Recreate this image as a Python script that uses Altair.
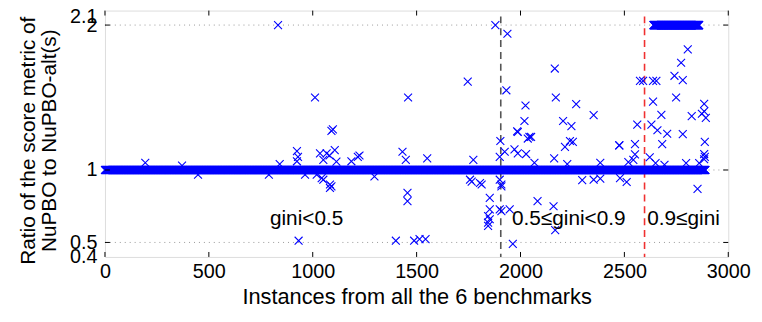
import altair as alt
import pandas as pd

# ---------------- data ----------------
# runs of instances whose ratio is (almost) exactly a constant value
band_ones = (0, 2890, 1.0)      # start, end, ratio
band_twos = (2640, 2860, 2.0)

out_x = [833, 1879, 1937, 1011, 1459, 1746, 1932, 1090, 1097,
         924, 929, 924, 1035, 1067, 1106, 1051, 1114, 1081, 1186, 1217, 1225,
         1432, 1448, 1551, 1773, 1903, 1924, 1900, 194, 371, 841,
         2165, 2170, 2268, 2024, 2352, 2019, 2205, 2245, 1984, 2035, 2051,
         2238, 2252, 2214, 2475, 1971, 1987, 2027, 2067, 2162, 2225, 2384,
         1987, 2043,
         2805, 2773, 2741, 2781, 2575, 2590, 2638, 2654, 2749, 2638, 2884,
         2678, 2824, 2873, 2892, 2884, 2562, 2630, 2659, 2706, 2781, 2476,
         2551, 2682, 2887, 2551, 2884, 2887, 2884, 2622, 2519, 2543, 2693,
         2797, 2860, 2650,
         1805, 1852, 1852, 1844, 1844, 1852, 1844, 1900, 1908, 1908, 1900,
         1948, 1963, 2082, 2159, 2167, 2852, 2297, 2352, 2384, 2511, 2479,
         1043, 1083, 1083, 1090, 1051, 1019, 1297, 1456, 1456, 1400, 1488,
         1514, 1543, 932, 1757, 1813, 1765, 1908, 448, 789, 963]
out_y = [2.0, 2.0, 1.94, 1.50, 1.50, 1.61, 1.55, 1.27, 1.28,
         1.13, 1.09, 1.06, 1.115, 1.115, 1.137, 1.07, 1.058, 1.10, 1.06, 1.09, 1.10,
         1.126, 1.07, 1.08, 1.07, 1.20, 1.126, 1.09, 1.05, 1.03, 1.04,
         1.70, 1.50, 1.454, 1.445, 1.379, 1.338, 1.338, 1.303, 1.267, 1.217, 1.228,
         1.20, 1.194, 1.16, 1.17, 1.142, 1.115, 1.11, 1.05, 1.08, 1.04, 1.05,
         1.262, 1.228,
         1.832, 1.74, 1.65, 1.62, 1.615, 1.615, 1.615, 1.615, 1.50, 1.472, 1.456,
         1.38, 1.372, 1.388, 1.36, 1.404, 1.313, 1.313, 1.274, 1.25, 1.247, 1.17,
         1.178, 1.178, 1.194, 1.108, 1.11, 1.09, 1.074, 1.088, 1.054, 1.07, 1.036,
         1.047, 1.047, 1.047,
         0.91, 0.808, 0.728, 0.682, 0.637, 0.66, 0.614, 0.933, 0.90, 0.887, 0.728,
         0.728, 0.49, 0.785, 0.75, 0.585, 0.87, 0.93, 0.933, 0.94, 0.917, 0.944,
         0.944, 0.90, 0.876, 0.887, 0.933, 0.967, 0.955, 0.842, 0.785, 0.512, 0.512,
         0.523, 0.523, 0.512, 0.933, 0.90, 0.92, 0.716, 0.967, 0.967, 0.967]

split_x = [1905, 2597]
split_color = ["#555555", "#f03030"]

region_labels = ["gini<0.5", "0.5≤gini<0.9", "0.9≤gini"]
region_x = [794, 1959, 2610]
region_y = [0.66, 0.66, 0.66]

x_ticks = [0, 500, 1000, 1500, 2000, 2500, 3000]
y_ticks = [0.4, 0.5, 1, 2, 2.1]
y_grid = [0.5, 1, 2]

# ---------------- tables ----------------
rows = []
for s, e, v in (band_ones, band_twos):
    for i in range(s, e + 1):
        rows.append({"x": i, "y": v})
for a, b in zip(out_x, out_y):
    rows.append({"x": a, "y": b})
pts = pd.DataFrame(rows)

W, H = 630, 249
FONT = "Liberation Sans"

xs = alt.Scale(domain=[0, 3000], nice=False, zero=False)
ys = alt.Scale(domain=[0.4, 2.1], nice=False, zero=False)

xaxis = alt.Axis(values=x_ticks, format="d", tickSize=0, domain=False, grid=False,
                 labelFontSize=20, labelFont=FONT, labelColor="black", labelPadding=5,
                 labelFlush=False,
                 title="Instances from all the 6 benchmarks", titleFont=FONT,
                 titleFontSize=22, titleFontWeight="normal", titleColor="black",
                 titleX=W / 2, titleY=47, titleBaseline="alphabetic", titleAnchor="middle")
yaxis = alt.Axis(values=y_ticks, format="~g", tickSize=0, domain=False, grid=False,
                 labelFontSize=20, labelFont=FONT, labelColor="black", labelPadding=8,
                 labelOverlap=False, labelFlush=False, labelBound=False,
                 labelOffset=alt.condition("datum.value == 2.1", alt.value(6), alt.value(0)),
                 title=["Ratio of the score metric of", "NuPBO to NuPBO-alt(s)"],
                 titleFont=FONT, titleFontSize=21, titleFontWeight="normal",
                 titleColor="black", titleLineHeight=21, titleAngle=-90,
                 titleX=-88, titleY=131, titleBaseline="top", titleAlign="center")

grid = alt.Chart(pd.DataFrame({"y": y_grid})).mark_rule(
    color="#999999", strokeDash=[1, 4], strokeWidth=1
).encode(y=alt.Y("y:Q", scale=ys, axis=yaxis), x=alt.value(0), x2=alt.value(W))

xt = pd.DataFrame({"x": x_ticks})
tick_b = alt.Chart(xt).mark_rule(color="black").encode(
    x=alt.X("x:Q", scale=xs, axis=xaxis), y=alt.value(H), y2=alt.value(H - 5))
tick_t = alt.Chart(xt).mark_rule(color="black").encode(
    x=alt.X("x:Q", scale=xs), y=alt.value(0), y2=alt.value(5))
yt = pd.DataFrame({"y": y_grid})
tick_l = alt.Chart(yt).mark_rule(color="black").encode(
    y=alt.Y("y:Q", scale=ys), x=alt.value(0), x2=alt.value(5))
tick_r = alt.Chart(yt).mark_rule(color="black").encode(
    y=alt.Y("y:Q", scale=ys), x=alt.value(W), x2=alt.value(W - 5))

splits = alt.Chart(pd.DataFrame({"x": split_x, "c": split_color,
                                 "y1": [2.06, 2.06], "y2": [0.4, 0.4]})).mark_rule(
    strokeDash=[7, 5], strokeWidth=1.6
).encode(x=alt.X("x:Q", scale=xs), y=alt.Y("y1:Q", scale=ys), y2="y2:Q",
         color=alt.Color("c:N", scale=None))

xshape = "M-1,-1L1,1M-1,1L1,-1"
points = alt.Chart(pts).mark_point(
    shape=xshape, filled=False, color="#0000ff", size=64, strokeWidth=1.1, opacity=1
).encode(x=alt.X("x:Q", scale=xs), y=alt.Y("y:Q", scale=ys))

labels = alt.Chart(pd.DataFrame({"t": region_labels, "x": region_x, "y": region_y})).mark_text(
    align="left", baseline="middle", fontSize=21, font=FONT, color="black"
).encode(x=alt.X("x:Q", scale=xs), y=alt.Y("y:Q", scale=ys), text="t:N")

chart = alt.layer(grid, splits, points, tick_b, tick_t, tick_l, tick_r, labels).properties(
    width=W, height=H,
    autosize=alt.AutoSizeParams(type="none"),
    padding={"left": 98, "top": 1, "right": 26, "bottom": 50},
).configure_view(stroke="black", strokeWidth=1.2).configure(background="white")

chart.save("out.html", embed_options={"renderer": "svg", "actions": False})
